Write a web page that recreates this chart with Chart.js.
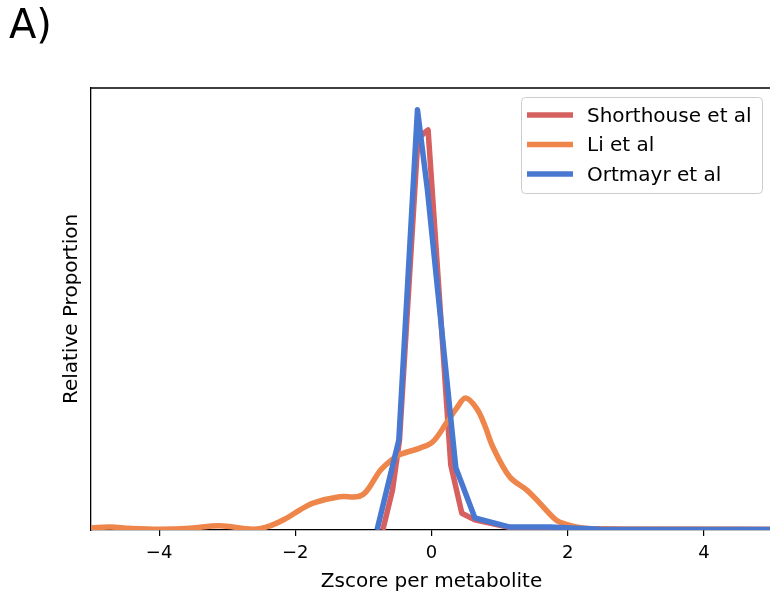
<!DOCTYPE html>
<html>
<head>
<meta charset="utf-8">
<script src="https://cdn.jsdelivr.net/npm/chart.js@4.4.1/dist/chart.umd.min.js"></script>
<style>
html, body { margin: 0; padding: 0; overflow: hidden; background: #fff; }
#wrap { width: 775px; height: 601px; }
</style>
</head>
<body>
<div id="wrap"><canvas id="c" width="775" height="601"></canvas></div>
<script>
// ---- data ----
const seriesNames = ['Shorthouse et al', 'Li et al', 'Ortmayr et al'];
const seriesColors = ['#d65f5f', '#ee854a', '#4878d0'];

const shorthouseX = [-0.715, -0.573, -0.47, -0.2, -0.109, -0.05, 0.283, 0.445, 0.636, 1.15, 1.88, 2.77, 5.0];
const shorthouseY = [0, 0.095, 0.214, 0.93, 0.945, 0.952, 0.155, 0.04, 0.024, 0.006, 0.004, 0.002, 0.001];

const liX = [-5.0, -4.72, -4.43, -4.0, -3.55, -3.11, -2.62, -2.37, -2.12, -1.93, -1.74, -1.35, -1.1, -1.0, -0.91, -0.76, -0.62, -0.47, -0.17, 0.02, 0.22, 0.37, 0.50, 0.66, 0.78, 0.9, 1.15, 1.4, 1.59, 1.78, 1.88, 2.22, 2.77, 3.94, 5.0];
const liY = [0.005, 0.007, 0.004, 0.002, 0.004, 0.010, 0.002, 0.010, 0.029, 0.048, 0.064, 0.079, 0.079, 0.085, 0.102, 0.140, 0.162, 0.179, 0.195, 0.21, 0.255, 0.29, 0.314, 0.29, 0.25, 0.198, 0.126, 0.095, 0.064, 0.031, 0.019, 0.005, 0.002, 0.002, 0.001];

const ortmayrX = [-0.80, -0.48, -0.206, -0.06, 0.357, 0.636, 1.15, 1.74, 2.47, 3.94, 5.0];
const ortmayrY = [0, 0.214, 1.0, 0.81, 0.148, 0.029, 0.007, 0.007, 0.002, 0.001, 0.001];

const xTicks = [-4, -2, 0, 2, 4];
const xRange = [-5, 5];
const yRange = [0, 1.052];

const panelLabel = 'A)';
const xTitle = 'Zscore per metabolite';
const yTitle = 'Relative Proportion';

function pts(xs, ys) { return xs.map((x, i) => ({ x: x, y: ys[i] })); }

Chart.defaults.font.family = "'DejaVu Sans', sans-serif";
Chart.defaults.color = '#000';

const spinesAndLegend = {
  id: 'spinesAndLegend',
  afterDraw(chart) {
    const ctx = chart.ctx;
    const a = chart.chartArea;
    ctx.save();
    ctx.strokeStyle = '#000';
    ctx.lineWidth = 1.3;
    ctx.beginPath();
    ctx.moveTo(a.left, a.top);
    ctx.lineTo(a.right, a.top);
    ctx.lineTo(a.right, a.bottom);
    ctx.stroke();

    // legend box
    const bx = 521.5, by = 97.5, bw = 241, bh = 96, r = 4;
    ctx.beginPath();
    ctx.moveTo(bx + r, by);
    ctx.lineTo(bx + bw - r, by);
    ctx.quadraticCurveTo(bx + bw, by, bx + bw, by + r);
    ctx.lineTo(bx + bw, by + bh - r);
    ctx.quadraticCurveTo(bx + bw, by + bh, bx + bw - r, by + bh);
    ctx.lineTo(bx + r, by + bh);
    ctx.quadraticCurveTo(bx, by + bh, bx, by + bh - r);
    ctx.lineTo(bx, by + r);
    ctx.quadraticCurveTo(bx, by, bx + r, by);
    ctx.closePath();
    ctx.fillStyle = 'rgba(255,255,255,0.8)';
    ctx.fill();
    ctx.strokeStyle = '#cccccc';
    ctx.lineWidth = 1;
    ctx.stroke();

    const rows = [115, 144.5, 174];
    chart.data.datasets.forEach((ds, i) => {
      const y = rows[i];
      ctx.strokeStyle = ds.borderColor;
      ctx.lineWidth = 5.5;
      ctx.lineCap = 'butt';
      ctx.beginPath();
      ctx.moveTo(527, y);
      ctx.lineTo(573, y);
      ctx.stroke();
      ctx.fillStyle = '#000';
      ctx.font = "20px 'DejaVu Sans', sans-serif";
      ctx.textBaseline = 'middle';
      ctx.textAlign = 'left';
      ctx.fillText(ds.label, 587, y + 1.5);
    });
    ctx.restore();
  }
};

new Chart(document.getElementById('c'), {
  type: 'line',
  data: {
    datasets: [
      { label: seriesNames[0], data: pts(shorthouseX, shorthouseY), borderColor: seriesColors[0], order: 3, tension: 0 },
      { label: seriesNames[1], data: pts(liX, liY), borderColor: seriesColors[1], order: 2, tension: 0.35 },
      { label: seriesNames[2], data: pts(ortmayrX, ortmayrY), borderColor: seriesColors[2], order: 1, tension: 0 }
    ]
  },
  options: {
    responsive: false,
    animation: false,
    events: [],
    datasets: {
      line: { borderWidth: 5.5, pointRadius: 0, fill: false, borderJoinStyle: 'round', borderCapStyle: 'butt' }
    },
    layout: { padding: { left: 9, right: 3, top: 0, bottom: 0 } },
    plugins: {
      legend: { display: false },
      tooltip: { enabled: false },
      title: {
        display: true,
        text: panelLabel,
        align: 'start',
        color: '#000',
        font: { size: 40, weight: 'normal', family: "'DejaVu Sans', sans-serif" },
        padding: { top: 4, bottom: 36 }
      }
    },
    scales: {
      x: {
        type: 'linear',
        min: xRange[0],
        max: xRange[1],
        afterBuildTicks: (s) => { s.ticks = xTicks.map(v => ({ value: v })); },
        afterFit: (s) => { s.height = 71; },
        ticks: {
          font: { size: 18 },
          color: '#000',
          padding: 7,
          maxRotation: 0,
          callback: (v) => (v < 0 ? '\u2212' + Math.abs(v) : String(v))
        },
        grid: { drawOnChartArea: false, drawTicks: true, tickLength: 6, color: '#000', lineWidth: 1.2 },
        border: { display: true, color: '#000', width: 1.3 },
        title: { display: true, text: xTitle, font: { size: 20 }, color: '#000', padding: { top: 0, bottom: 7 } }
      },
      y: {
        type: 'linear',
        min: yRange[0],
        max: yRange[1],
        afterFit: (s) => { s.width = 82; },
        ticks: { display: false },
        grid: { display: false, drawOnChartArea: false, drawTicks: false },
        border: { display: true, color: '#000', width: 1.3 },
        title: { display: true, text: yTitle, font: { size: 20 }, color: '#000', padding: { top: 51, bottom: 0 } }
      }
    }
  },
  plugins: [spinesAndLegend]
});
</script>
</body>
</html>
